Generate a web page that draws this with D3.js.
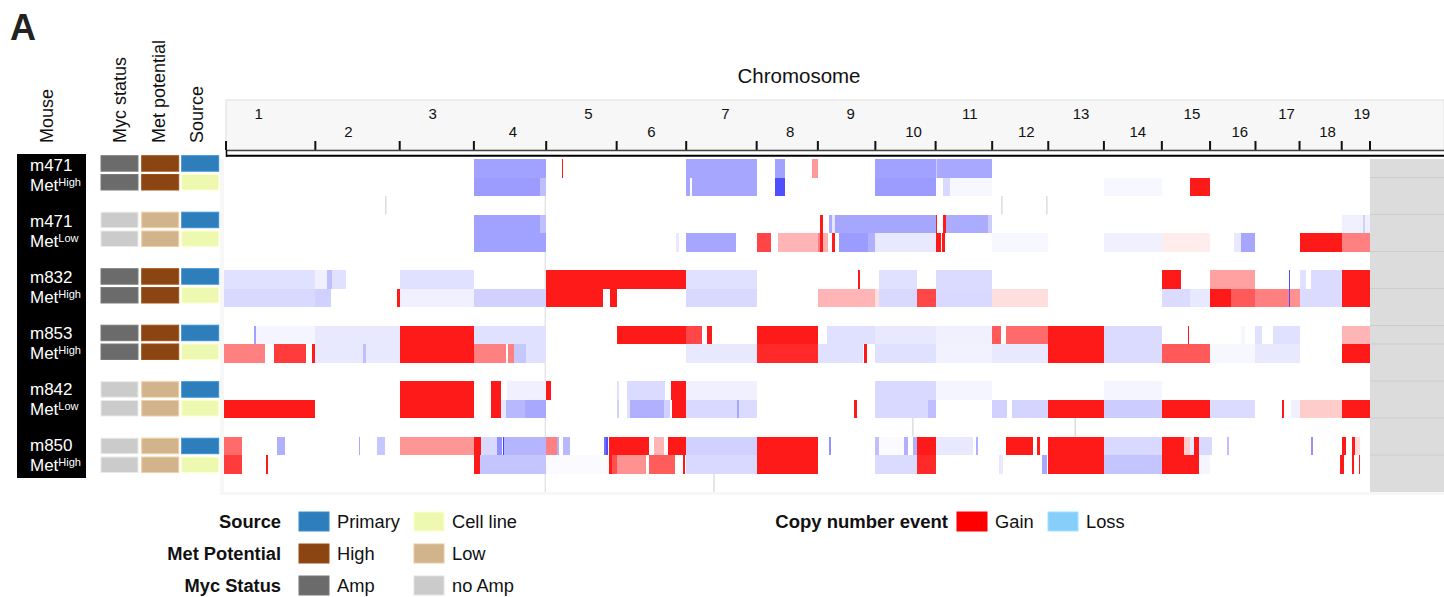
<!DOCTYPE html>
<html><head><meta charset="utf-8">
<script src="https://cdn.jsdelivr.net/npm/d3@7"></script>
<style>
body{margin:0;background:#fff;}
text{font-family:"Liberation Sans",Arial,Helvetica,sans-serif;}
</style>
</head><body>
<svg id="chart" width="1444" height="597"></svg>
<script>
// ---------------- DATA ----------------
const chromosomes = ["1","2","3","4","5","6","7","8","9","10","11","12","13","14","15","16","17","18","19"];
const chromLengths = [197,182,160,156,152,150,152,132,124,130,122,121,120,125,104,98,95,91,61]; // Mb
const labelShift = [-11,-9,-4,3,7,0,4,3,4,8,6,6,5,5,6,7,9,7,6];

const mice = ["m471","m471","m832","m853","m842","m850"];
const metLabels = ["High","Low","High","High","Low","High"];
const mycStatus = ["Amp","no Amp","Amp","Amp","no Amp","no Amp"];
const metPotential = ["High","Low","High","High","Low","Low"];
const sources = ["Primary","Cell line"];

// copy number segments: [start Mb (genome-wide), end Mb, intensity (-1 loss .. +1 gain)]
const m471High_primary = [[539,695,-0.37],[729,731,0.9],[997,1149,-0.35],[1188,1210,-0.37],[1268,1281,0.4],[1405,1535,-0.37],[1535,1538,-0.2],[1538,1657,-0.34]];
const m471High_cellline = [[539,682,-0.39],[682,695,-0.25],[997,1005,-0.35],[1009,1149,-0.35],[1188,1210,-0.69],[1405,1535,-0.39],[1551,1566,-0.15],[1566,1657,-0.03],[1898,2023,-0.03],[2084,2127,0.9]];
const m471Low_primary = [[539,682,-0.37],[682,695,-0.25],[1286,1292,0.9],[1305,1311,-0.33],[1311,1318,-0.1],[1318,1405,-0.35],[1405,1535,-0.35],[1535,1538,0.9],[1551,1557,0.9],[1557,1648,-0.33],[1648,1657,-0.2],[2411,2457,-0.06],[2457,2461,-0.18],[2461,2472,-0.06]];
const m471Low_cellline = [[539,695,-0.37],[975,981,-0.09],[997,1104,-0.35],[1149,1180,0.73],[1195,1281,0.29],[1281,1286,0.5],[1286,1292,0.9],[1292,1303,0.31],[1311,1318,0.9],[1327,1389,-0.39],[1389,1405,-0.31],[1405,1535,-0.09],[1535,1547,0.9],[1549,1555,0.9],[1657,1778,-0.03],[1898,2023,-0.06],[2023,2127,0.07],[2179,2194,-0.09],[2194,2225,-0.35],[2320,2411,0.9],[2411,2472,0.5]];
const m832_primary = [[0,197,-0.12],[197,222,-0.06],[222,233,-0.25],[233,263,-0.12],[379,539,-0.12],[695,997,0.9],[997,1149,-0.12],[1368,1372,0.9],[1413,1495,-0.12],[1535,1657,-0.14],[2023,2064,0.9],[2127,2225,0.37],[2297,2299,-0.69],[2320,2334,-0.12],[2345,2411,-0.14],[2411,2472,0.9]];
const m832_cellline = [[0,197,-0.15],[197,231,-0.18],[373,379,0.9],[379,539,-0.06],[539,695,-0.18],[695,818,0.9],[833,847,0.9],[997,1149,-0.15],[1281,1405,0.29],[1405,1413,0.12],[1413,1495,-0.15],[1495,1535,0.72],[1535,1657,-0.15],[1657,1778,0.13],[2023,2084,-0.14],[2084,2127,-0.09],[2127,2172,0.9],[2172,2225,0.65],[2225,2297,0.5],[2297,2299,-0.69],[2299,2320,0.43],[2320,2411,-0.14],[2411,2472,0.9]];
const m853_primary = [[65,69,-0.37],[69,197,-0.04],[197,379,-0.09],[379,539,0.9],[539,695,-0.12],[847,997,0.9],[997,1031,0.72],[1042,1053,0.9],[1149,1281,0.9],[1301,1405,-0.12],[1405,1535,-0.09],[1535,1657,-0.06],[1657,1676,0.65],[1687,1778,0.58],[1778,1898,0.9],[1898,2023,-0.14],[2080,2082,0.9],[2194,2202,-0.03],[2225,2239,-0.12],[2263,2320,-0.12],[2411,2472,0.29]];
const m853_cellline = [[0,88,0.5],[108,177,0.77],[190,197,0.9],[197,300,-0.09],[300,306,-0.25],[306,379,-0.09],[379,539,0.9],[539,608,0.5],[613,626,0.5],[626,651,-0.22],[651,695,-0.12],[997,1149,-0.09],[1149,1281,0.84],[1281,1378,-0.12],[1380,1387,0.9],[1405,1535,-0.12],[1535,1657,-0.05],[1657,1778,-0.09],[1778,1898,0.9],[1898,2023,-0.14],[2023,2127,0.65],[2127,2225,-0.03],[2225,2320,-0.09],[2411,2472,0.9]];
const m842_primary = [[379,539,0.9],[576,597,0.9],[610,695,-0.06],[695,705,0.9],[847,852,-0.12],[869,951,-0.14],[964,997,0.9],[997,1149,-0.06],[1405,1535,-0.15],[1535,1657,-0.04],[1898,2023,-0.04]];
const m842_cellline = [[0,197,0.9],[379,539,0.9],[576,597,0.9],[597,608,-0.09],[608,649,-0.28],[649,695,-0.34],[847,852,-0.18],[869,876,-0.12],[876,949,-0.31],[949,962,-0.18],[966,997,0.9],[997,1107,-0.15],[1107,1111,-0.34],[1111,1149,-0.14],[1359,1365,0.9],[1405,1519,-0.15],[1519,1535,-0.25],[1657,1689,-0.18],[1700,1778,-0.17],[1778,1898,0.9],[1898,2023,-0.2],[2023,2127,0.9],[2127,2225,-0.14],[2282,2286,0.9],[2302,2320,-0.06],[2320,2411,0.2],[2411,2472,0.9]];
const m850_primary = [[0,39,0.58],[114,132,-0.31],[291,293,-0.34],[330,347,-0.22],[379,539,0.41],[539,554,0.9],[554,589,-0.15],[589,600,-0.43],[601,603,-0.75],[604,695,-0.29],[695,718,0.5],[718,723,-0.31],[731,746,-0.28],[820,824,-0.56],[824,828,-0.69],[830,917,0.9],[928,949,0.29],[958,997,0.9],[997,1149,-0.18],[1149,1281,0.9],[1305,1309,-0.43],[1405,1413,-0.25],[1413,1467,-0.02],[1467,1475,-0.31],[1486,1495,-0.31],[1495,1535,0.9],[1535,1616,-0.09],[1622,1626,-0.31],[1687,1745,0.9],[1754,1760,0.9],[1778,1898,0.9],[1898,2023,-0.15],[2023,2071,0.9],[2071,2084,0.2],[2084,2092,-0.09],[2092,2103,0.9],[2103,2131,-0.15],[2163,2168,-0.25],[2345,2349,-0.43],[2411,2420,0.9],[2433,2440,0.9],[2440,2450,0.13]];
const m850_cellline = [[0,39,0.77],[91,95,0.9],[539,552,0.9],[552,695,-0.23],[695,830,-0.02],[830,837,0.9],[837,847,0.69],[847,910,0.43],[917,973,0.64],[991,994,0.9],[997,1149,-0.15],[1149,1281,0.9],[1405,1495,-0.14],[1495,1535,0.84],[1672,1680,-0.09],[1764,1776,-0.34],[1778,1898,0.9],[1898,2023,-0.23],[2023,2103,0.9],[2103,2127,-0.04],[2407,2416,0.9],[2433,2437,0.9],[2448,2450,0.9]];

const sampleSegments = [
  [m471High_primary, m471High_cellline],
  [m471Low_primary, m471Low_cellline],
  [m832_primary, m832_cellline],
  [m853_primary, m853_cellline],
  [m842_primary, m842_cellline],
  [m850_primary, m850_cellline]
];
// thin grey marks found in spacer rows: [row index, Mb]
const spacerMarks = [[2,349],[2,1678],[2,1775],[14,1486],[14,1836],[17,1057]];
const greyRowLines = [1,3,5,7,9,10,12,14,16];

const legendSource = ["Primary","Cell line"];
const legendMet = ["High","Low"];
const legendMyc = ["Amp","no Amp"];
const legendCNV = ["Gain","Loss"];

// ---------------- COLOURS ----------------
const mycColor = d3.scaleOrdinal().domain(["Amp","no Amp"]).range(["#6b6b6b","#cbcbcb"]);
const metColor = d3.scaleOrdinal().domain(["High","Low"]).range(["#8b4513","#d2b48c"]);
const srcColor = d3.scaleOrdinal().domain(["Primary","Cell line"]).range(["#2e7ebc","#edf8b1"]);
const cnvLegendColor = d3.scaleOrdinal().domain(["Gain","Loss"]).range(["#ff0000","#87cefa"]);
const cnColor = d3.scaleLinear().domain([-1,0,1]).range(["#0000ff","#ffffff","#ff0000"]).clamp(true);

// ---------------- SCALES ----------------
const offsets = [];
chromLengths.reduce((acc,l,i)=>{offsets[i]=acc;return acc+l;},0);
const genomeLen = d3.sum(chromLengths);
const x = d3.scaleLinear().domain([0,genomeLen]).range([224,1370]);
const rowIdx = d3.range(18);
const y = d3.scaleBand().domain(rowIdx).range([159,492]).padding(0);

const svg = d3.select("#chart");

// ---------------- TITLE / HEADERS ----------------
svg.append("text").attr("x",10).attr("y",40).attr("font-size",36).attr("font-weight","bold").attr("fill","#222").text("A");

const headers = [["Mouse",53],["Myc status",126],["Met potential",165],["Source",203]];
headers.forEach(([t,xx])=>{
  svg.append("text").attr("transform",`translate(${xx},143) rotate(-90)`)
    .attr("font-size",18).attr("fill","#111").text(t);
});

svg.append("text").attr("x",799).attr("y",83).attr("text-anchor","middle")
  .attr("font-size",20.5).attr("fill","#111").text("Chromosome");

// header box
svg.append("rect").attr("x",226).attr("y",100).attr("width",1218).attr("height",50)
  .attr("fill","#f7f7f7").attr("stroke","#e0e0e0");
// chromosome labels
chromosomes.forEach((c,i)=>{
  const cx = x(offsets[i]+chromLengths[i]/2)+labelShift[i];
  svg.append("text").attr("x",cx).attr("y", i%2===0 ? 119 : 137)
    .attr("text-anchor","middle").attr("font-size",15).attr("fill","#111").text(c);
});
// ticks
const bounds = offsets.concat([genomeLen]);
svg.selectAll("line.tick").data(bounds).join("line")
  .attr("x1",d=>Math.max(226,x(d))).attr("x2",d=>Math.max(226,x(d)))
  .attr("y1",141).attr("y2",150).attr("stroke","#111").attr("stroke-width",2);
// double line
svg.append("line").attr("x1",226).attr("x2",1444).attr("y1",150.5).attr("y2",150.5).attr("stroke","#444").attr("stroke-width",1.5);
svg.append("line").attr("x1",226).attr("x2",1444).attr("y1",155.8).attr("y2",155.8).attr("stroke","#000").attr("stroke-width",2);
svg.append("line").attr("x1",226.5).attr("x2",226.5).attr("y1",150).attr("y2",156.8).attr("stroke","#000").attr("stroke-width",1.5);

// ---------------- PLOT AREA ----------------
svg.append("rect").attr("x",220).attr("y",159).attr("width",4).attr("height",336).attr("fill","#f7f7f7");
svg.append("rect").attr("x",220).attr("y",492).attr("width",1224).attr("height",3).attr("fill","#f7f7f7");
// grey unmapped region
svg.append("rect").attr("x",x(genomeLen)).attr("y",159).attr("width",1444-x(genomeLen)).attr("height",333).attr("fill","#dcdcdc");
svg.selectAll("line.gr").data(greyRowLines).join("line")
  .attr("x1",x(genomeLen)).attr("x2",1444).attr("y1",d=>y(d)).attr("y2",d=>y(d))
  .attr("stroke","#cccccc").attr("stroke-width",1);
// vertical guide
svg.append("line").attr("x1",x(offsets[4])-1).attr("x2",x(offsets[4])-1).attr("y1",159).attr("y2",492)
  .attr("stroke","#d9d9d9").attr("stroke-width",1);
// spacer marks
svg.selectAll("line.sm").data(spacerMarks).join("line")
  .attr("x1",d=>x(d[1])).attr("x2",d=>x(d[1]))
  .attr("y1",d=>y(d[0])).attr("y2",d=>y(d[0])+y.bandwidth())
  .attr("stroke","#d4d4d4").attr("stroke-width",1.2);

// segments
const segG = svg.append("g").attr("shape-rendering","crispEdges");
sampleSegments.forEach((pair,g)=>{
  pair.forEach((segs,r)=>{
    const row = g*3+r;
    segG.selectAll(null).data(segs).join("rect")
      .attr("x",d=>x(d[0]))
      .attr("width",d=>Math.max(1.2,x(d[1])-x(d[0])))
      .attr("y",y(row)).attr("height",y.bandwidth())
      .attr("fill",d=>cnColor(d[2]));
  });
});

// ---------------- LEFT ANNOTATIONS ----------------
svg.append("rect").attr("x",17).attr("y",154).attr("width",69).attr("height",324).attr("fill","#000");
mice.forEach((m,g)=>{
  const yb = 170.7 + 56*g;
  svg.append("text").attr("x",30).attr("y",yb).attr("font-size",17).attr("fill","#fff").text(m);
  const t = svg.append("text").attr("x",30).attr("y",yb+20).attr("font-size",17).attr("fill","#fff");
  t.append("tspan").text("Met");
  t.append("tspan").attr("font-size",11).attr("dy",-5).text(metLabels[g]);

  const yt = 155.7 + 56.5*g;
  [0,1].forEach(r=>{
    const yy = yt + r*18.8;
    const cells = [[101,mycColor(mycStatus[g])],[141.7,metColor(metPotential[g])],[181.7,srcColor(sources[r])]];
    cells.forEach(([xx,col])=>{
      svg.append("rect").attr("x",xx).attr("y",yy).attr("width",37).attr("height",15.5)
        .attr("fill",col).attr("stroke",d3.color(col).brighter(0.4)).attr("stroke-width",1);
    });
  });
});

// ---------------- LEGEND ----------------
const legRows = [["Source",legendSource,srcColor,522],["Met Potential",legendMet,metColor,554],["Myc Status",legendMyc,mycColor,586]];
legRows.forEach(([title,items,sc,cy])=>{
  svg.append("text").attr("x",281).attr("y",cy).attr("dy","0.35em").attr("text-anchor","end")
    .attr("font-size",18.3).attr("font-weight","bold").attr("fill","#111").text(title);
  items.forEach((it,i)=>{
    const bx = 299 + i*115;
    svg.append("rect").attr("x",bx).attr("y",cy-10).attr("width",30).attr("height",19)
      .attr("fill",sc(it)).attr("stroke",d3.color(sc(it)).brighter(0.3)).attr("stroke-width",1);
    svg.append("text").attr("x",bx+38).attr("y",cy).attr("dy","0.35em")
      .attr("font-size",18.3).attr("fill","#111").text(it);
  });
});
svg.append("text").attr("x",948).attr("y",522).attr("dy","0.35em").attr("text-anchor","end")
  .attr("font-size",18.5).attr("font-weight","bold").attr("fill","#111").text("Copy number event");
legendCNV.forEach((it,i)=>{
  const bx = 957 + i*91;
  svg.append("rect").attr("x",bx).attr("y",512).attr("width",30).attr("height",19)
    .attr("fill",cnvLegendColor(it)).attr("stroke",d3.color(cnvLegendColor(it)).brighter(0.3)).attr("stroke-width",1);
  svg.append("text").attr("x",bx+38).attr("y",522).attr("dy","0.35em")
    .attr("font-size",18.3).attr("fill","#111").text(it);
});
</script>
</body></html>
